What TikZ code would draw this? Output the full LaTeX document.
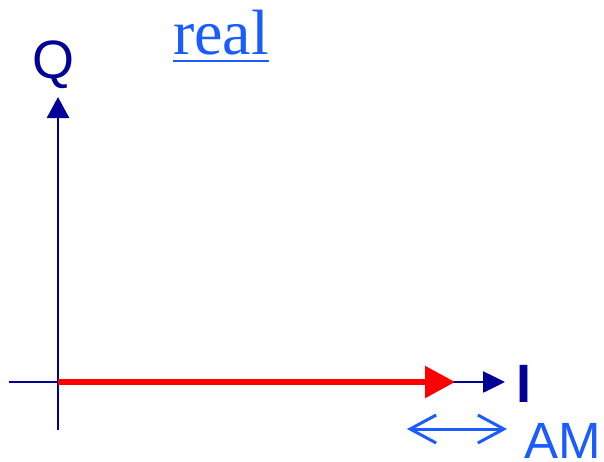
\documentclass[tikz,border=0pt]{standalone}
\usepackage{fontspec}
\setmainfont{Liberation Serif}
\setsansfont{Liberation Sans}
\usetikzlibrary{arrows.meta}
\definecolor{navy}{RGB}{0,0,153}
\definecolor{lblue}{RGB}{26,92,255}
\definecolor{vred}{RGB}{255,0,0}
\tikzset{
  axis/.style={draw=navy, line width=2.6pt},
  lbl/.style={inner sep=0pt, outer sep=0pt, anchor=base},
}
\begin{document}
\begin{tikzpicture}[x=1pt,y=-1pt]
\useasboundingbox (0,0) rectangle (604,461);
% coordinates
\coordinate (xl) at (9,382);
\coordinate (xr) at (505,382);
\coordinate (yb) at (58,430);
\coordinate (yt) at (58,97);
\coordinate (o) at (58,382);
\coordinate (rt) at (455,382);
\coordinate (dl) at (407,429);
\coordinate (dr) at (507,429);
% axes
\draw[axis, -{Triangle[length=22pt,width=21pt]}] (xl) -- (xr);
\draw[axis, -{Triangle[length=21pt,width=22pt]}] (yb) -- (yt);
% red vector
\draw[draw=vred, fill=vred, line width=5.5pt, -{Triangle[length=30pt,width=31pt]}] (o) -- (rt);
% double arrow
\draw[draw=lblue, line width=3pt, {Straight Barb[length=26pt,width=28pt]}-{Straight Barb[length=26pt,width=28pt]}] (dl) -- (dr);
% labels
\node[lbl, text=navy, font=\sffamily\fontsize{54}{60}\selectfont] (Q) at (54,78) {Q};
\node[lbl, text=navy, font=\sffamily\bfseries\fontsize{54}{60}\selectfont] (I) at (523.5,402) {I};
\node[lbl, anchor=base west, text=lblue, font=\sffamily\fontsize{51}{60}\selectfont] (AM) at (524,458.5) {AM};
\node[lbl, anchor=base west, text=lblue, font=\rmfamily\fontsize{64}{70}\selectfont] (real) at (173,54) {real};
\draw[draw=lblue, line width=2.6pt] (real.base west |- 0,61) -- (real.base east |- 0,61);
\end{tikzpicture}
\end{document}
